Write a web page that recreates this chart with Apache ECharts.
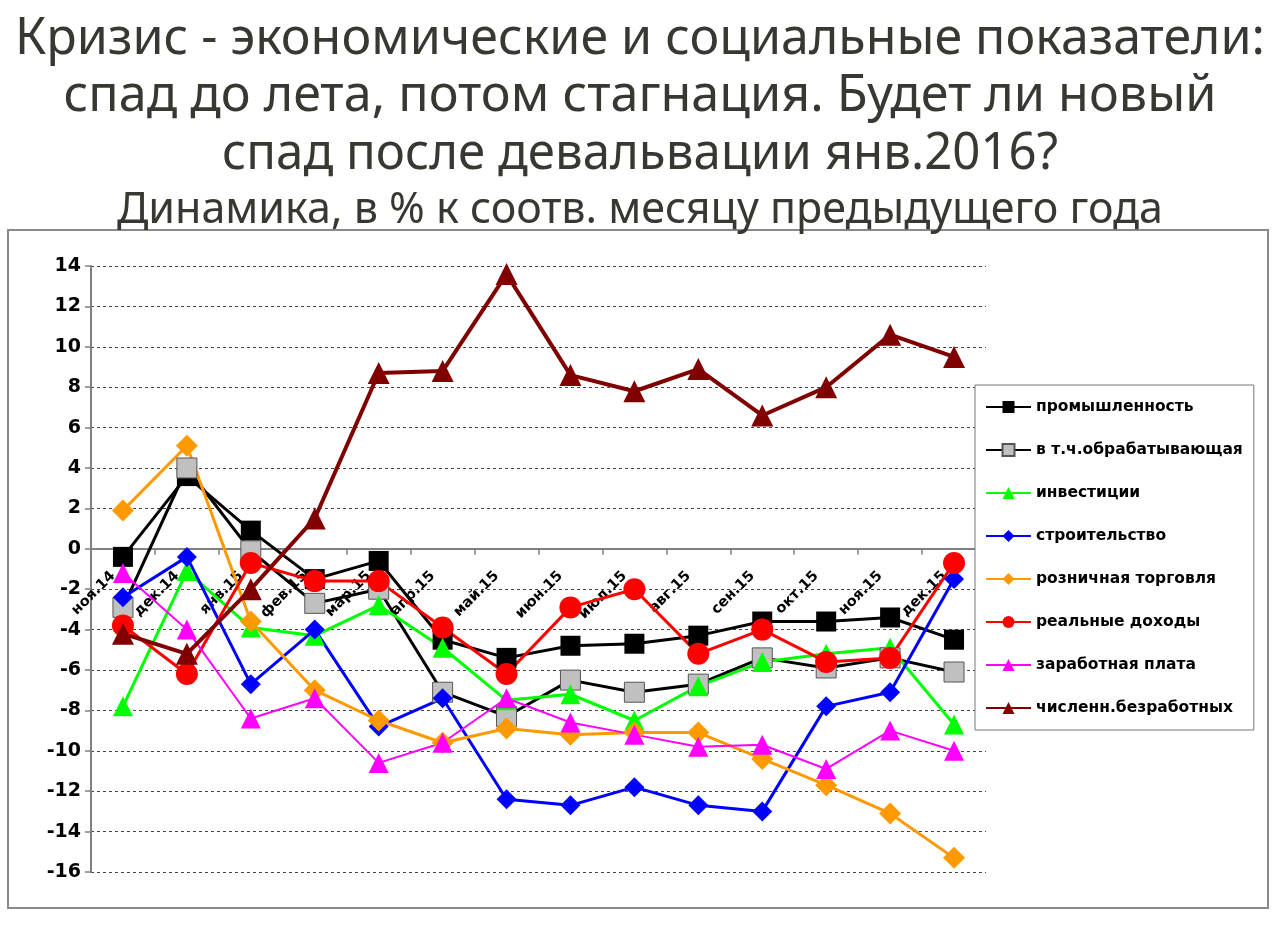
<!DOCTYPE html>
<html>
<head>
<meta charset="utf-8">
<script src="https://cdn.jsdelivr.net/npm/echarts@6/dist/echarts.min.js"></script>
<style>
html,body{margin:0;padding:0;background:#fff;}
#chart{width:1280px;height:930px;}
</style>
</head>
<body>
<div id="chart"></div>
<script>
const categories = ['ноя.14','дек.14','янв.15','фев.15','мар.15','апр.15','май.15','июн.15','июл.15','авг.15','сен.15','окт.15','ноя.15','дек.15'];
const promyshlennost = [-0.4, 3.6, 0.9, -1.5, -0.6, -4.5, -5.4, -4.8, -4.7, -4.3, -3.6, -3.6, -3.4, -4.5];
const obrabatyvayushchaya = [-2.9, 4.0, -0.1, -2.7, -2.0, -7.1, -8.3, -6.5, -7.1, -6.7, -5.4, -5.9, -5.4, -6.1];
const investitsii = [-7.8, -1.1, -3.9, -4.3, -2.8, -4.9, -7.5, -7.2, -8.5, -6.8, -5.6, -5.2, -4.9, -8.7];
const stroitelstvo = [-2.4, -0.4, -6.7, -4.0, -8.8, -7.4, -12.4, -12.7, -11.8, -12.7, -13.0, -7.8, -7.1, -1.5];
const roznichnaya = [1.9, 5.1, -3.6, -7.0, -8.5, -9.6, -8.9, -9.2, -9.1, -9.1, -10.4, -11.7, -13.1, -15.3];
const realnyeDohody = [-3.8, -6.2, -0.7, -1.6, -1.6, -3.9, -6.2, -2.9, -2.0, -5.2, -4.0, -5.6, -5.4, -0.7];
const zarplata = [-1.2, -4.0, -8.4, -7.4, -10.6, -9.6, -7.4, -8.6, -9.2, -9.8, -9.7, -10.9, -9.0, -10.0];
const bezrabotnye = [-4.2, -5.2, -2.0, 1.5, 8.7, 8.8, 13.6, 8.6, 7.8, 8.9, 6.6, 8.0, 10.6, 9.5];
const seriesNames = ['промышленность','в т.ч.обрабатывающая','инвестиции','строительство','розничная торговля','реальные доходы','заработная плата','численн.безработных'];
const yTicks = {min: -16, max: 14, interval: 2};

const titleLines = [
  {text: 'Кризис - экономические и социальные показатели:', width: 1250, y: 39, size: 51},
  {text: 'спад до лета, потом стагнация. Будет ли новый', width: 1153, y: 96, size: 51},
  {text: 'спад после девальвации янв.2016?', width: 836, y: 154, size: 51},
  {text: 'Динамика, в % к соотв. месяцу предыдущего года', width: 1046, y: 211, size: 43}
];

const titleFont = '"Noto Sans", sans-serif';
const cnv = document.createElement('canvas').getContext('2d');
const graphics = [{
  type: 'rect', shape: {x: 8, y: 230, width: 1260, height: 678},
  style: {fill: null, stroke: '#8a8a8a', lineWidth: 2}, z: 0, silent: true
}];
titleLines.forEach(function (t) {
  cnv.font = t.size + 'px ' + titleFont;
  const w = cnv.measureText(t.text).width;
  graphics.push({
    type: 'text', x: 640, y: t.y, scaleX: t.width / w, silent: true,
    style: {text: t.text, font: t.size + 'px ' + titleFont, fill: '#383731', align: 'center', verticalAlign: 'middle'}
  });
});

// grid layout (pixels)
const gridTop = 266, gridBottom = 58, gridH = 930 - gridTop - gridBottom;
// place the category axis on the zero line of the value axis
const zeroOffset = -gridH * (0 - yTicks.min) / (yTicks.max - yTicks.min);

const chart = echarts.init(document.getElementById('chart'), null, {renderer: 'canvas'});
function mk(name, data, color, symbol, size, lw, border) {
  return {
    name: name, type: 'line', data: data, symbol: symbol, symbolSize: size,
    lineStyle: {color: color, width: lw},
    itemStyle: border ? {color: border.fill, borderColor: border.stroke, borderWidth: 1} : {color: color, borderWidth: 0},
    color: color, animation: false
  };
}
chart.setOption({
  animation: false,
  backgroundColor: '#ffffff',
  graphic: graphics,
  grid: {left: 91, top: gridTop, right: 294, bottom: gridBottom, containLabel: false},
  legend: {
    orient: 'vertical', left: 975, top: 385,
    padding: [14, 11, 14, 10], itemGap: 27, itemWidth: 45, itemHeight: 15,
    backgroundColor: '#ffffff', borderColor: '#777', borderWidth: 1,
    textStyle: {fontFamily: '"DejaVu Sans"', fontWeight: 'bold', fontSize: 15.5, color: '#000'},
    data: seriesNames
  },
  xAxis: {
    type: 'category', data: categories, boundaryGap: true, position: 'bottom', offset: zeroOffset,
    axisLine: {onZero: false, lineStyle: {color: '#808080', width: 2}},
    axisTick: {show: true, length: 6, lineStyle: {color: '#808080', width: 1.5}},
    axisLabel: {rotate: 45, margin: 15, padding: [0, 14, 0, 0], interval: 0, color: '#000', fontFamily: '"DejaVu Sans"', fontWeight: 'bold', fontSize: 14.5},
    splitLine: {show: false}
  },
  yAxis: {
    type: 'value', min: yTicks.min, max: yTicks.max, interval: yTicks.interval,
    axisLine: {show: true, lineStyle: {color: '#808080', width: 2}},
    axisTick: {show: true, length: 6, lineStyle: {color: '#808080', width: 1.5}},
    axisLabel: {margin: 10, color: '#000', fontFamily: '"DejaVu Sans"', fontWeight: 'bold', fontSize: 19},
    splitLine: {show: true, lineStyle: {color: '#444', width: 1, type: [3, 3]}}
  },
  series: [
    mk(seriesNames[0], promyshlennost, '#000000', 'rect', 20, 3),
    mk(seriesNames[1], obrabatyvayushchaya, '#000000', 'rect', 20, 3, {fill: '#c0c0c0', stroke: '#555'}),
    mk(seriesNames[2], investitsii, '#00ff00', 'triangle', 20, 3),
    mk(seriesNames[3], stroitelstvo, '#0000ff', 'diamond', 20, 3),
    mk(seriesNames[4], roznichnaya, '#ff9900', 'diamond', 22, 3),
    mk(seriesNames[5], realnyeDohody, '#ff0000', 'circle', 22, 3),
    mk(seriesNames[6], zarplata, '#ff00ff', 'triangle', 20, 2),
    mk(seriesNames[7], bezrabotnye, '#800000', 'triangle', 22, 4)
  ]
});
</script>
</body>
</html>
